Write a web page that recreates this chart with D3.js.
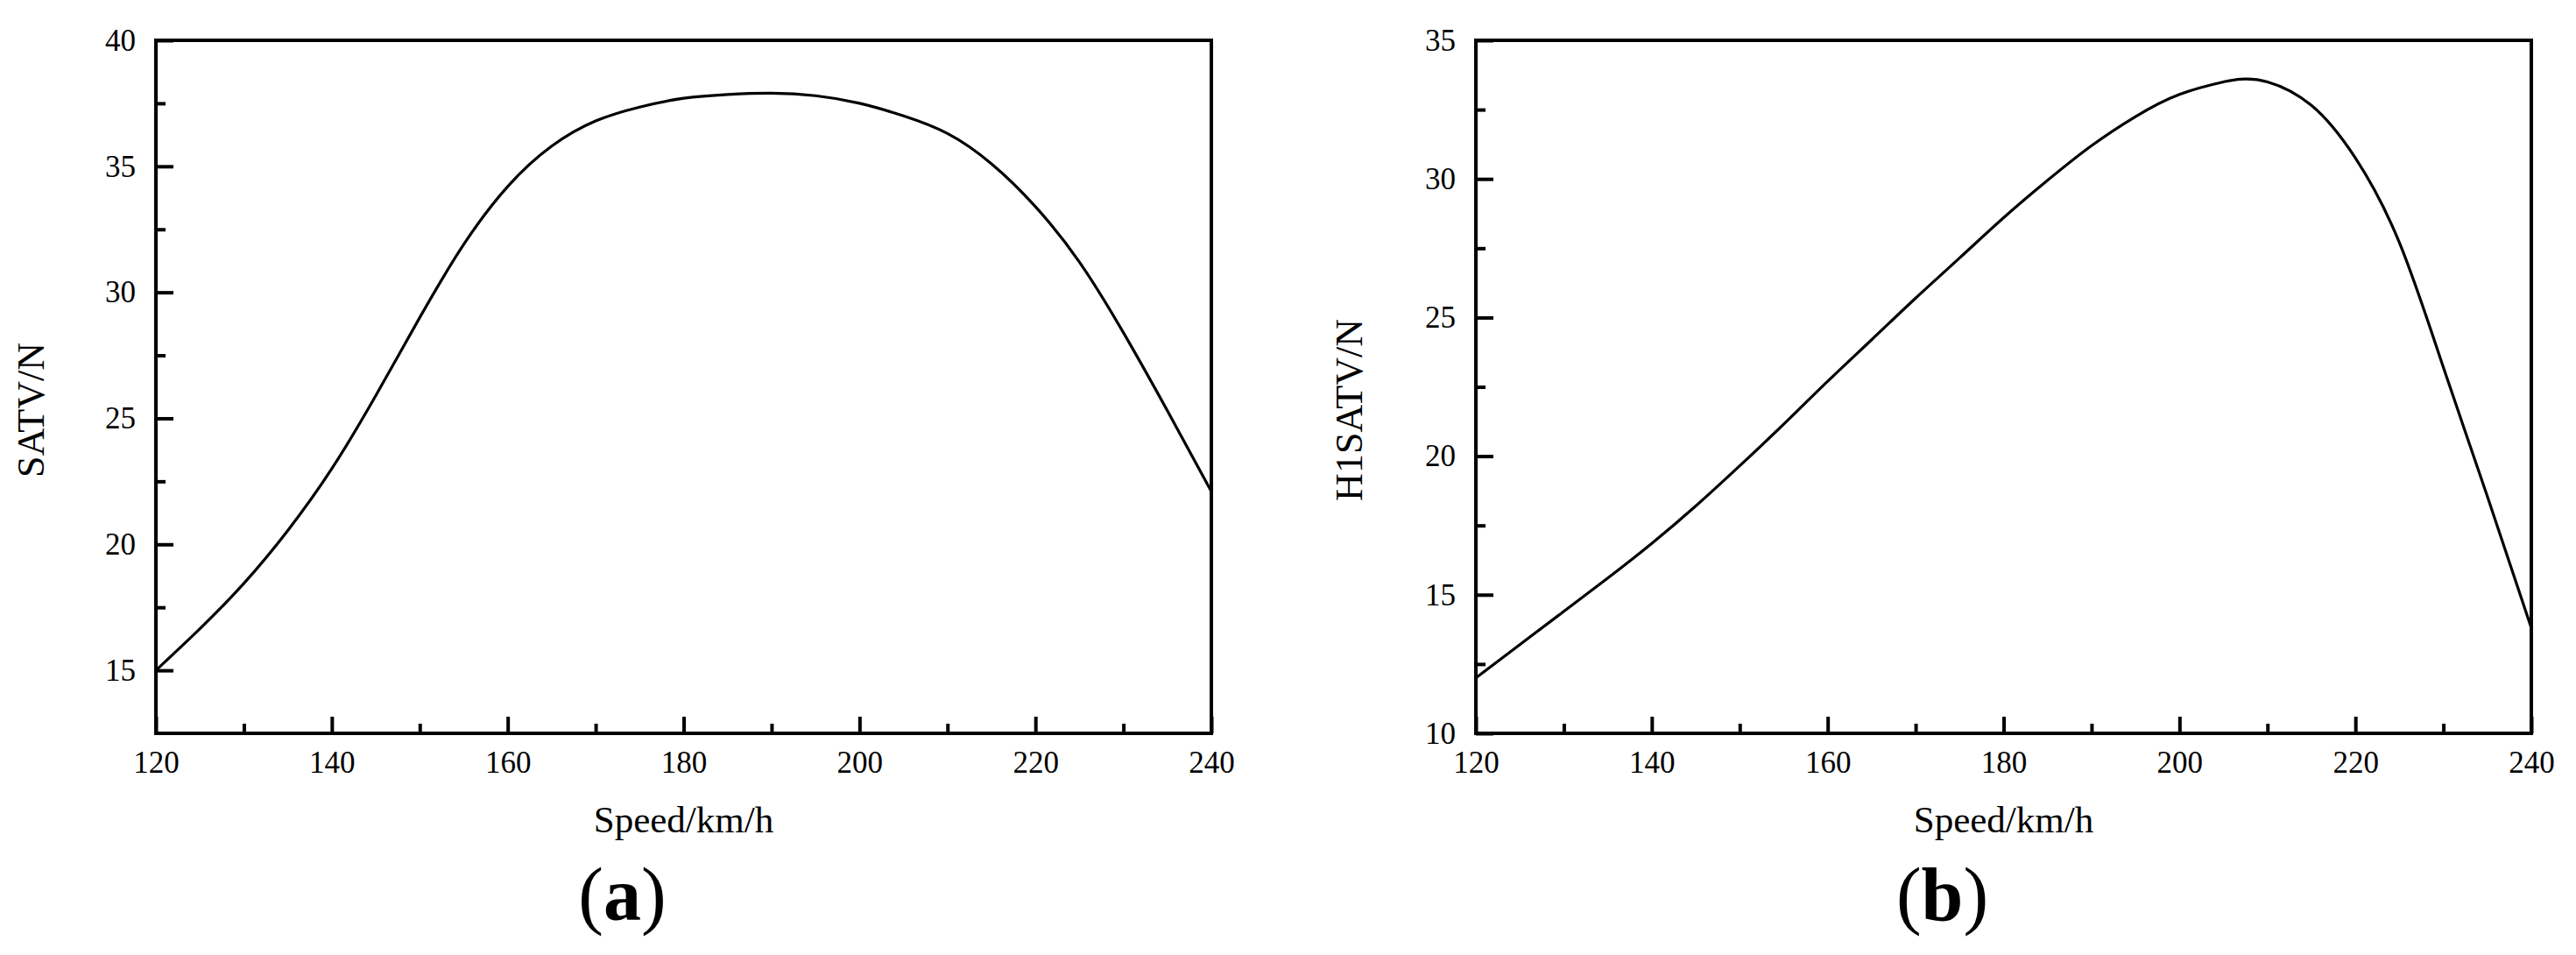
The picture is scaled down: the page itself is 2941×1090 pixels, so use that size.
<!DOCTYPE html>
<html>
<head>
<meta charset="utf-8">
<script src="https://cdn.jsdelivr.net/npm/d3@7"></script>
<style>
  html, body { margin: 0; padding: 0; background: #fff; }
  svg { display: block; font-family: "Liberation Serif", "Times New Roman", serif; }
</style>
</head>
<body>
<div id="chart"></div>
<script>
/* Two panels: SATV and H1SATV against speed. */

var speedA = [120, 125, 130, 135, 140, 145, 150, 155, 160, 165, 170, 175, 180,
              185, 190, 195, 200, 205, 210, 215, 220, 225, 230, 235, 240];
var satv   = [15.0, 16.65, 18.45, 20.55, 23.0, 25.9, 29.0, 31.9, 34.2, 35.8, 36.8, 37.35, 37.7,
              37.85, 37.9, 37.8, 37.5, 37.0, 36.3, 35.1, 33.4, 31.2, 28.4, 25.3, 22.1];

var speedB = [120, 125, 130, 135, 140, 145, 150, 155, 160, 165, 170, 175, 180,
              185, 190, 195, 200, 205, 207, 210, 215, 220, 225, 230, 235, 240];
var h1satv = [12.0, 13.2, 14.4, 15.6, 16.85, 18.2, 19.65, 21.15, 22.7, 24.2, 25.7, 27.15, 28.6,
              29.95, 31.2, 32.25, 33.05, 33.5, 33.6, 33.5, 32.65, 30.75, 27.7, 23.2, 18.55, 13.8];

var xTicks = [120, 140, 160, 180, 200, 220, 240];
var xMinor = [130, 150, 170, 190, 210, 230];
var yTicksA = [15, 20, 25, 30, 35, 40];
var yMinorA = [17.5, 22.5, 27.5, 32.5, 37.5];
var yTicksB = [10, 15, 20, 25, 30, 35];
var yMinorB = [12.5, 17.5, 22.5, 27.5, 32.5];

var W = 2941, H = 1090;
var svg = d3.select("#chart").append("svg")
    .attr("width", W).attr("height", H);

function panel(opts) {
    var x = d3.scaleLinear().domain([120, 240]).range([opts.left, opts.right]);
    var y = d3.scaleLinear().domain(opts.yDomain).range([837, 46]);
    var g = svg.append("g");
    var y0 = y.range()[0], x0 = x.range()[0];

    // bottom axis, ticks point inward
    g.append("g").attr("transform", "translate(0," + y0 + ")")
        .call(d3.axisBottom(x).tickValues(xTicks).tickSize(-19).tickPadding(20).tickFormat(d3.format("d")));
    g.append("g").attr("transform", "translate(0," + y0 + ")")
        .call(d3.axisBottom(x).tickValues(xMinor).tickSize(-11).tickFormat(""));

    // left axis, ticks point inward
    g.append("g").attr("transform", "translate(" + x0 + ",0)")
        .call(d3.axisLeft(y).tickValues(opts.yTicks).tickSize(-20).tickPadding(23).tickFormat(d3.format("d")));
    g.append("g").attr("transform", "translate(" + x0 + ",0)")
        .call(d3.axisLeft(y).tickValues(opts.yMinor).tickSize(-11).tickFormat(""));

    g.selectAll(".domain").remove();
    g.selectAll(".tick line").attr("stroke", "#000").attr("stroke-width", 4);
    g.selectAll(".tick text").attr("fill", "#000").style("font-size", "35px")
        .style("font-family", "Liberation Serif");

    // frame
    g.append("rect")
        .attr("x", x0).attr("y", y.range()[1])
        .attr("width", x.range()[1] - x0)
        .attr("height", y0 - y.range()[1])
        .attr("fill", "none").attr("stroke", "#000").attr("stroke-width", 4);

    // curve
    var line = d3.line()
        .x(function(d) { return x(d[0]); })
        .y(function(d) { return y(d[1]); })
        .curve(d3.curveNatural);
    g.append("path")
        .datum(d3.zip(opts.xs, opts.ys))
        .attr("d", line)
        .attr("fill", "none").attr("stroke", "#000").attr("stroke-width", 3.2);

    var cx = (x0 + x.range()[1]) / 2;
    g.append("text")
        .attr("x", cx).attr("y", 950)
        .attr("text-anchor", "middle")
        .style("font-size", "43px")
        .text("Speed/km/h");

    g.append("text")
        .attr("transform", "translate(" + opts.titleX + ",468) rotate(-90)")
        .attr("text-anchor", "middle")
        .style("font-size", "44px")
        .text(opts.yTitle);

    var lab = g.append("text")
        .attr("x", cx + opts.labelShift).attr("y", 1050)
        .attr("text-anchor", "middle")
        .style("font-size", "86px");
    lab.append("tspan").text("(");
    lab.append("tspan").attr("font-weight", "bold").text(opts.label);
    lab.append("tspan").text(")");
}

panel({left: 178, right: 1383, yDomain: [12.5, 40], yTicks: yTicksA, yMinor: yMinorA,
       xs: speedA, ys: satv, yTitle: "SATV/N", titleX: 50, label: "a", labelShift: -70});
panel({left: 1685, right: 2890, yDomain: [10, 35], yTicks: yTicksB, yMinor: yMinorB,
       xs: speedB, ys: h1satv, yTitle: "H1SATV/N", titleX: 1555, label: "b", labelShift: -70});
</script>
</body>
</html>
